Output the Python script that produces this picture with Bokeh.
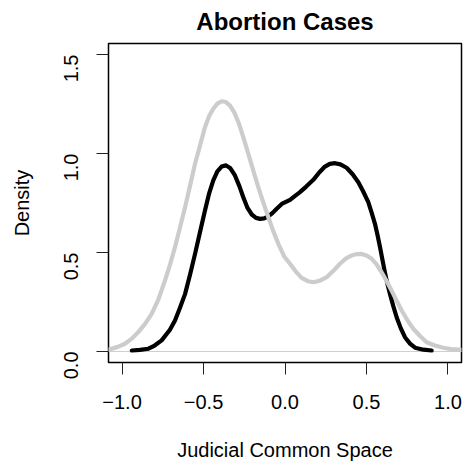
import math
from bokeh.plotting import figure
from bokeh.models import Range1d, Span, FixedTicker
from bokeh.embed import file_html
from bokeh.resources import INLINE

# ---- data ----
black_x = [-0.94, -0.89, -0.838, -0.8, -0.757, -0.706, -0.675, -0.645, -0.613, -0.582,
           -0.552, -0.521, -0.491, -0.465, -0.44, -0.415, -0.389, -0.362, -0.335, -0.307,
           -0.28, -0.256, -0.23, -0.204, -0.178, -0.153, -0.128, -0.102, -0.076, -0.051,
           -0.02, 0.031, 0.06, 0.092, 0.13, 0.174, 0.21, 0.245, 0.275, 0.307,
           0.34, 0.378, 0.415, 0.45, 0.48, 0.511, 0.532, 0.552, 0.568, 0.583,
           0.598, 0.613, 0.628, 0.644, 0.665, 0.685, 0.71, 0.736, 0.767, 0.798,
           0.849, 0.9]
black_y = [0.005, 0.008, 0.014, 0.03, 0.056, 0.11, 0.157, 0.22, 0.291, 0.39,
           0.493, 0.605, 0.712, 0.8, 0.864, 0.91, 0.934, 0.94, 0.925, 0.889,
           0.835, 0.779, 0.725, 0.692, 0.675, 0.67, 0.672, 0.682, 0.7, 0.721,
           0.745, 0.766, 0.785, 0.805, 0.833, 0.867, 0.904, 0.934, 0.948, 0.951,
           0.945, 0.928, 0.895, 0.855, 0.808, 0.754, 0.7, 0.645, 0.587, 0.527,
           0.463, 0.4, 0.343, 0.291, 0.228, 0.173, 0.118, 0.072, 0.04, 0.019,
           0.009, 0.005]

gray_x = [-1.12, -1.084, -1.03, -0.982, -0.94, -0.9, -0.86, -0.818, -0.776, -0.736,
          -0.705, -0.675, -0.644, -0.613, -0.582, -0.552, -0.52, -0.491, -0.465, -0.44,
          -0.415, -0.389, -0.363, -0.337, -0.31, -0.286, -0.255, -0.225, -0.195, -0.164,
          -0.133, -0.102, -0.072, -0.041, -0.005, 0.031, 0.065, 0.102, 0.14, 0.174,
          0.215, 0.256, 0.3, 0.337, 0.375, 0.409, 0.44, 0.47, 0.5, 0.532,
          0.562, 0.593, 0.624, 0.654, 0.685, 0.716, 0.75, 0.787, 0.83, 0.869,
          0.92, 0.971, 1.02, 1.074, 1.12]
gray_y = [0.006, 0.009, 0.022, 0.039, 0.065, 0.098, 0.138, 0.19, 0.265, 0.359,
          0.44, 0.527, 0.627, 0.729, 0.84, 0.948, 1.045, 1.133, 1.19, 1.226,
          1.252, 1.264, 1.26, 1.242, 1.205, 1.158, 1.08, 0.998, 0.915, 0.83,
          0.752, 0.678, 0.608, 0.544, 0.48, 0.443, 0.405, 0.372, 0.355, 0.35,
          0.358, 0.375, 0.41, 0.443, 0.47, 0.485, 0.492, 0.493, 0.485, 0.468,
          0.44, 0.4, 0.355, 0.308, 0.257, 0.207, 0.16, 0.115, 0.077, 0.047,
          0.03, 0.019, 0.012, 0.009, 0.006]

x_ticks = [-1.0, -0.5, 0.0, 0.5, 1.0]
x_tick_labels = ["\u22121.0", "\u22120.5", "0.0", "0.5", "1.0"]
y_ticks = [0.0, 0.5, 1.0, 1.5]
y_tick_labels = ["0.0", "0.5", "1.0", "1.5"]

title_text = "Abortion Cases"
x_label = "Judicial Common Space"
y_label = "Density"

FONT = "Liberation Sans"

p = figure(width=466, height=465, output_backend="svg", toolbar_location=None,
           x_range=Range1d(-1.083, 1.083), y_range=Range1d(-0.0556, 1.5556),
           min_border_left=108, min_border_right=5, min_border_top=43, min_border_bottom=103,
           title=title_text)

p.background_fill_color = "white"
p.border_fill_color = "white"
p.grid.visible = False
p.outline_line_color = "black"
p.outline_line_width = 1.5

p.title.text_font = FONT
p.title.text_font_size = "24px"
p.title.text_font_style = "bold"
p.title.align = "center"
p.title.vertical_align = "top"
p.title.text_color = "black"
p.title.standoff = 14

zero = Span(location=0, dimension="width", line_color="#cfcfcf", line_width=1.2, level="underlay")
p.add_layout(zero)

p.line(black_x, black_y, line_color="black", line_width=4.2, line_join="round", line_cap="round")
p.line(gray_x, gray_y, line_color="#cccccc", line_width=4.2, line_join="round", line_cap="round")

for ax in (p.xaxis[0], p.yaxis[0]):
    ax.axis_line_color = None
    ax.major_tick_in = 0
    ax.major_tick_out = 12
    ax.major_tick_line_color = "#222222"
    ax.major_tick_line_width = 1
    ax.minor_tick_line_color = None
    ax.major_label_text_font = FONT
    ax.major_label_text_font_size = "20px"
    ax.major_label_text_color = "black"
    ax.axis_label_text_font = FONT
    ax.axis_label_text_font_size = "20px"
    ax.axis_label_text_font_style = "normal"
    ax.axis_label_text_color = "black"

p.xaxis.ticker = FixedTicker(ticks=x_ticks)
p.xaxis.major_label_overrides = dict(zip(x_ticks, x_tick_labels))
p.xaxis.axis_label = x_label
p.xaxis.major_label_standoff = 20
p.xaxis.axis_label_standoff = 27

p.yaxis.ticker = FixedTicker(ticks=y_ticks)
p.yaxis.major_label_overrides = dict(zip(y_ticks, y_tick_labels))
p.yaxis.major_label_orientation = math.pi / 2
p.yaxis.axis_label = y_label
p.yaxis.major_label_standoff = 25
p.yaxis.axis_label_standoff = 22

open("out.html", "w").write(file_html(p, INLINE))
